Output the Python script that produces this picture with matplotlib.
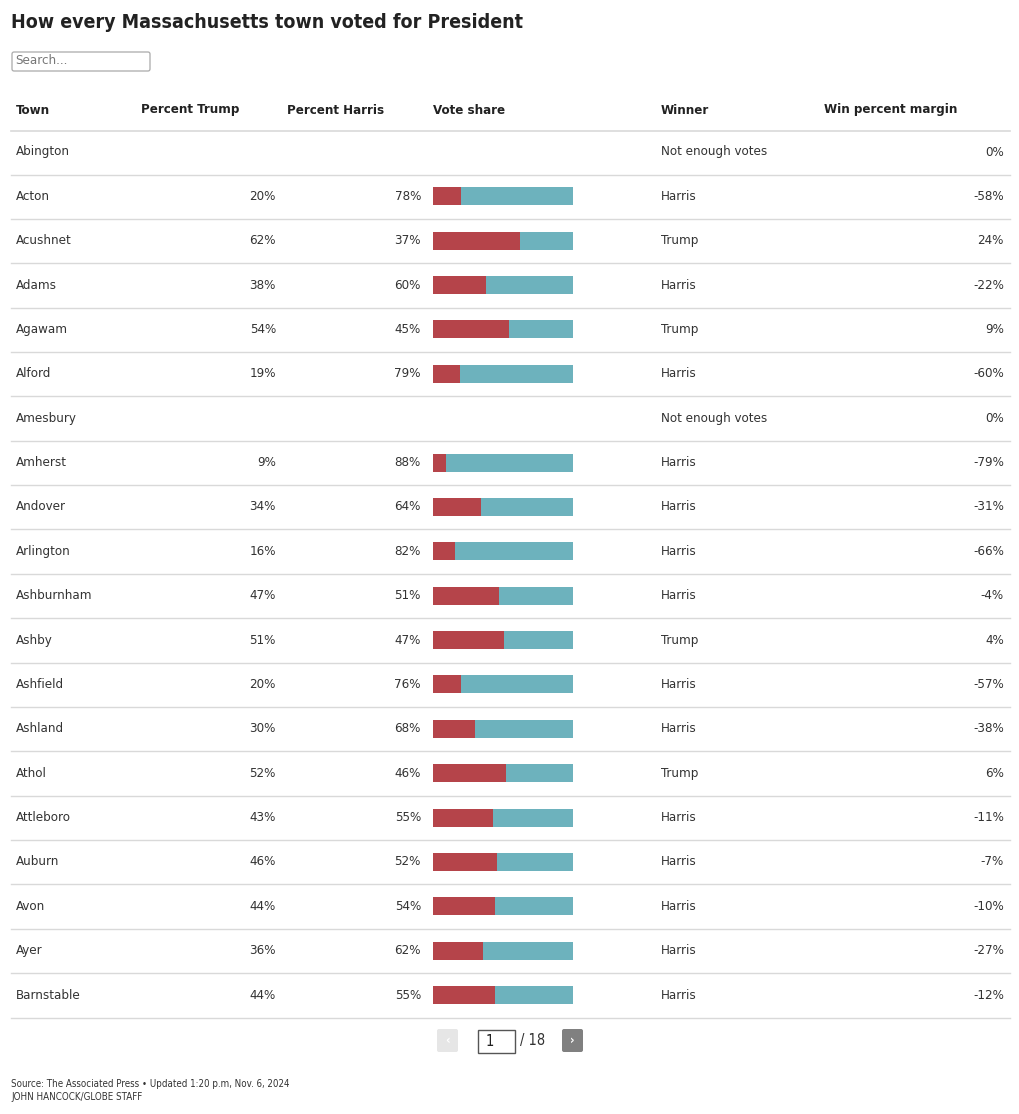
import matplotlib.pyplot as plt
from matplotlib.patches import Rectangle, FancyBboxPatch

plt.rcParams['font.family'] = ['DejaVu Sans']
plt.rcParams['font.stretch'] = 'condensed'

towns = ["Abington", "Acton", "Acushnet", "Adams", "Agawam", "Alford", "Amesbury",
         "Amherst", "Andover", "Arlington", "Ashburnham", "Ashby", "Ashfield",
         "Ashland", "Athol", "Attleboro", "Auburn", "Avon", "Ayer", "Barnstable"]
trump = [None, 20, 62, 38, 54, 19, None, 9, 34, 16, 47, 51, 20, 30, 52, 43, 46, 44, 36, 44]
harris = [None, 78, 37, 60, 45, 79, None, 88, 64, 82, 51, 47, 76, 68, 46, 55, 52, 54, 62, 55]
winner = ["Not enough votes", "Harris", "Trump", "Harris", "Trump", "Harris",
          "Not enough votes", "Harris", "Harris", "Harris", "Harris", "Trump",
          "Harris", "Harris", "Trump", "Harris", "Harris", "Harris", "Harris", "Harris"]
margin = [0, -58, 24, -22, 9, -60, 0, -79, -31, -66, -4, 4, -57, -38, 6, -11, -7, -10, -27, -12]
headers = ["Town", "Percent Trump", "Percent Harris", "Vote share", "Winner", "Win percent margin"]

RED = "#b5444a"
TEAL = "#6db2bd"
TXT = "#333333"
LINE = "#d9d9d9"

W, H = 1020, 1114
fig = plt.figure(figsize=(W / 100, H / 100), dpi=100)
ax = fig.add_axes([0, 0, 1, 1])
ax.set_xlim(0, W)
ax.set_ylim(H, 0)
ax.axis("off")

# title + search
ax.text(11, 22, "How every Massachusetts town voted for President", fontsize=14,
        fontweight="bold", color="#222222", va="center", ha="left")
ax.add_patch(FancyBboxPatch((12, 52), 138, 19, boxstyle="round,pad=0,rounding_size=2",
                            fc="white", ec="#aaaaaa", lw=0.9))
ax.text(15, 61, "Search...", fontsize=9.5, color="#777777", va="center")

# header
head_x = [16, 141, 287, 433, 661, 824]
for hx, h in zip(head_x, headers):
    ax.text(hx, 110, h, fontsize=9.5, fontweight="bold", color="#222222", va="center")
ax.plot([11, 1010], [131, 131], color=LINE, lw=1.2)

y0, step = 152, 44.37
rows_y = [y0 + i * step for i in range(len(towns))]

# bar axes for the vote share column
bax = fig.add_axes([433 / W, 0, 140 / W, 1])
bax.set_xlim(0, 100)
bax.set_ylim(H, 0)
bax.axis("off")
bar_y = [y for y, t in zip(rows_y, trump) if t is not None]
bar_t = [t for t in trump if t is not None]
bax.barh(bar_y, bar_t, height=18, color=RED, left=0)
bax.barh(bar_y, [100 - t for t in bar_t], height=18, color=TEAL, left=bar_t)

for i, y in enumerate(rows_y):
    ax.text(16, y, towns[i], fontsize=9.5, color=TXT, va="center")
    if trump[i] is not None:
        ax.text(276, y, f"{trump[i]}%", fontsize=9.5, color=TXT, va="center", ha="right")
        ax.text(421, y, f"{harris[i]}%", fontsize=9.5, color=TXT, va="center", ha="right")
    ax.text(661, y, winner[i], fontsize=9.5, color=TXT, va="center")
    ax.text(1004, y, f"{margin[i]}%", fontsize=9.5, color=TXT, va="center", ha="right")
    ax.plot([11, 1010], [y + 22.5, y + 22.5], color=LINE, lw=1)

# pagination
ax.add_patch(FancyBboxPatch((437, 1029), 21, 23, boxstyle="round,pad=0,rounding_size=2",
                            fc="#e6e6e6", ec="none"))
ax.text(447.5, 1040, "‹", fontsize=9, color="white", ha="center", va="center", fontweight="bold")
ax.add_patch(Rectangle((478, 1030), 37, 23, fc="white", ec="#555555", lw=1))
ax.text(486, 1041, "1", fontsize=10.5, color="#222222", va="center")
ax.text(520, 1041, "/ 18", fontsize=10.5, color="#333333", va="center")
ax.add_patch(FancyBboxPatch((562, 1029), 21, 23, boxstyle="round,pad=0,rounding_size=2",
                            fc="#808080", ec="none"))
ax.text(572.5, 1040, "›", fontsize=9, color="white", ha="center", va="center", fontweight="bold")

# footer
ax.text(11, 1084, "Source: The Associated Press • Updated 1:20 p.m, Nov. 6, 2024",
        fontsize=7, color="#333333", va="center")
ax.text(11, 1097, "JOHN HANCOCK/GLOBE STAFF", fontsize=7, color="#333333", va="center")

fig.savefig("out.png", dpi=100, facecolor="white")
